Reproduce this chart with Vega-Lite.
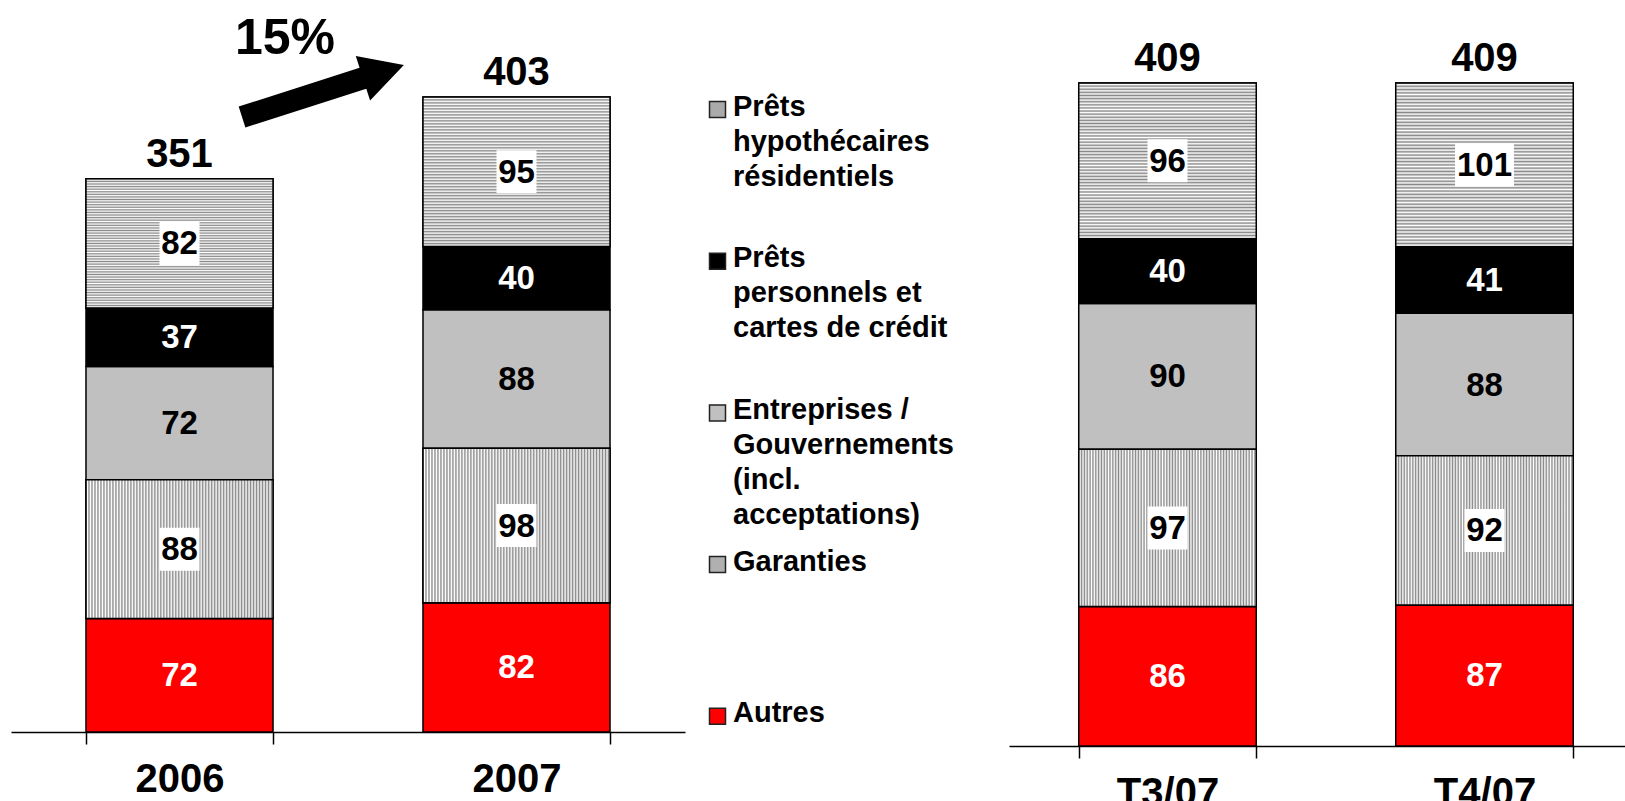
{
"$schema": "https://vega.github.io/schema/vega-lite/v6.json",
"background": "white",
"padding": {"left": 11, "top": 14, "right": 0, "bottom": 0},
"autosize": {"type": "pad"},
"bounds": "flush",
"spacing": 324,
"config": {"view": {"stroke": null}, "font": "Liberation Sans"},
"datasets": {
"loans": [
{"panel": "A", "period": "2006", "cat": "Autres", "ord": 1, "value": 72},
{"panel": "A", "period": "2006", "cat": "Garanties", "ord": 2, "value": 88},
{"panel": "A", "period": "2006", "cat": "Entreprises / Gouvernements (incl. acceptations)", "ord": 3, "value": 72},
{"panel": "A", "period": "2006", "cat": "Prêts personnels et cartes de crédit", "ord": 4, "value": 37},
{"panel": "A", "period": "2006", "cat": "Prêts hypothécaires résidentiels", "ord": 5, "value": 82},
{"panel": "A", "period": "2007", "cat": "Autres", "ord": 1, "value": 82},
{"panel": "A", "period": "2007", "cat": "Garanties", "ord": 2, "value": 98},
{"panel": "A", "period": "2007", "cat": "Entreprises / Gouvernements (incl. acceptations)", "ord": 3, "value": 88},
{"panel": "A", "period": "2007", "cat": "Prêts personnels et cartes de crédit", "ord": 4, "value": 40},
{"panel": "A", "period": "2007", "cat": "Prêts hypothécaires résidentiels", "ord": 5, "value": 95},
{"panel": "Q", "period": "T3/07", "cat": "Autres", "ord": 1, "value": 86},
{"panel": "Q", "period": "T3/07", "cat": "Garanties", "ord": 2, "value": 97},
{"panel": "Q", "period": "T3/07", "cat": "Entreprises / Gouvernements (incl. acceptations)", "ord": 3, "value": 90},
{"panel": "Q", "period": "T3/07", "cat": "Prêts personnels et cartes de crédit", "ord": 4, "value": 40},
{"panel": "Q", "period": "T3/07", "cat": "Prêts hypothécaires résidentiels", "ord": 5, "value": 96},
{"panel": "Q", "period": "T4/07", "cat": "Autres", "ord": 1, "value": 87},
{"panel": "Q", "period": "T4/07", "cat": "Garanties", "ord": 2, "value": 92},
{"panel": "Q", "period": "T4/07", "cat": "Entreprises / Gouvernements (incl. acceptations)", "ord": 3, "value": 88},
{"panel": "Q", "period": "T4/07", "cat": "Prêts personnels et cartes de crédit", "ord": 4, "value": 41},
{"panel": "Q", "period": "T4/07", "cat": "Prêts hypothécaires résidentiels", "ord": 5, "value": 101}
],
"note": [
{"period": "2006", "label": "15%", "ylab": 439.7, "yarrow": 406.7}
]
},
"resolve": {"scale": {"x": "independent", "y": "independent", "color": "shared"}, "legend": {"color": "independent"}},
"hconcat": [
{
"width": 674, "height": 695,
"layer": [
{
"data": {"name": "loans"},
"transform": [
{"filter": "datum.panel == 'A'"},
{"stack": "value", "groupby": ["period"], "sort": [{"field": "ord", "order": "ascending"}], "as": ["v0", "v1"]}
],
"mark": {"type": "bar", "stroke": "black", "strokeWidth": 1.5},
"encoding": {
"x": {"field": "period", "type": "nominal", "sort": ["2006", "2007"],
"scale": {"paddingInner": 0.445, "paddingOuter": 0.2225},
"axis": {"title": null, "labelAngle": 0, "tickBand": "extent", "domainColor": "black", "domainWidth": 1.5, "tickColor": "black", "tickWidth": 1.5, "tickSize": 12, "labelPadding": 15, "labelFont": "Liberation Sans", "labelFontSize": 40, "labelFontWeight": "bold", "labelColor": "black", "grid": false}},
"y": {"field": "v0", "type": "quantitative", "scale": {"domain": [0, 441], "nice": false, "zero": true}, "axis": null},
"y2": {"field": "v1"},
"color": {"field": "cat", "type": "nominal",
"scale": {
"domain": ["Prêts hypothécaires résidentiels", "Prêts personnels et cartes de crédit", "Entreprises / Gouvernements (incl. acceptations)", "Garanties", "Autres"],
"range": ["#aaaaaa", "#000000", "#c0c0c0", "#b0b0b0", "#ff0000"]},
"legend": {
"orient": "none", "legendX": 692, "legendY": 58, "title": null, "padding": 0,
"symbolType": "square", "symbolSize": 256, "symbolStrokeColor": "#222", "symbolStrokeWidth": 1.5, "symbolOpacity": 1,
"labelFont": "Liberation Sans", "labelFontSize": 29, "labelFontWeight": "bold", "labelColor": "black",
"labelLimit": 400, "labelOffset": 1, "labelBaseline": "top", "rowPadding": 16.7,
"labelExpr": "datum.label == 'Garanties' ? ['Garanties','','',''] : datum.label == 'Autres' ? ['Autres','','',''] : datum.label == 'Prêts hypothécaires résidentiels' ? ['Prêts','hypothécaires','résidentiels',''] : datum.label == 'Prêts personnels et cartes de crédit' ? ['Prêts','personnels et','cartes de crédit',''] : ['Entreprises /','Gouvernements','(incl.','acceptations)']",
"encode": {"labels": {"update": {"dy": {"value": -17}, "lineHeight": {"value": 35}}}}
}}
}
},
{
"data": {"name": "loans"},
"transform": [
{"filter": "datum.panel == 'A'"},
{"stack": "value", "groupby": ["period"], "sort": [{"field": "ord", "order": "ascending"}], "as": ["v0", "v1"]},
{"filter": "datum.cat == 'Prêts hypothécaires résidentiels'"}
],
"mark": {"type": "bar", "stroke": "black", "strokeWidth": 1.5,
"fill": {"gradient": "linear", "x1": 0, "y1": 0, "x2": 0, "y2": 1, "stops": [
{"offset":0,"color":"#888"},{"offset":0.01,"color":"#fff"},{"offset":0.02,"color":"#888"},{"offset":0.03,"color":"#fff"},{"offset":0.04,"color":"#888"},{"offset":0.05,"color":"#fff"},{"offset":0.06,"color":"#888"},{"offset":0.07,"color":"#fff"},{"offset":0.08,"color":"#888"},{"offset":0.09,"color":"#fff"},
{"offset":0.1,"color":"#888"},{"offset":0.11,"color":"#fff"},{"offset":0.12,"color":"#888"},{"offset":0.13,"color":"#fff"},{"offset":0.14,"color":"#888"},{"offset":0.15,"color":"#fff"},{"offset":0.16,"color":"#888"},{"offset":0.17,"color":"#fff"},{"offset":0.18,"color":"#888"},{"offset":0.19,"color":"#fff"},
{"offset":0.2,"color":"#888"},{"offset":0.21,"color":"#fff"},{"offset":0.22,"color":"#888"},{"offset":0.23,"color":"#fff"},{"offset":0.24,"color":"#888"},{"offset":0.25,"color":"#fff"},{"offset":0.26,"color":"#888"},{"offset":0.27,"color":"#fff"},{"offset":0.28,"color":"#888"},{"offset":0.29,"color":"#fff"},
{"offset":0.3,"color":"#888"},{"offset":0.31,"color":"#fff"},{"offset":0.32,"color":"#888"},{"offset":0.33,"color":"#fff"},{"offset":0.34,"color":"#888"},{"offset":0.35,"color":"#fff"},{"offset":0.36,"color":"#888"},{"offset":0.37,"color":"#fff"},{"offset":0.38,"color":"#888"},{"offset":0.39,"color":"#fff"},
{"offset":0.4,"color":"#888"},{"offset":0.41,"color":"#fff"},{"offset":0.42,"color":"#888"},{"offset":0.43,"color":"#fff"},{"offset":0.44,"color":"#888"},{"offset":0.45,"color":"#fff"},{"offset":0.46,"color":"#888"},{"offset":0.47,"color":"#fff"},{"offset":0.48,"color":"#888"},{"offset":0.49,"color":"#fff"},
{"offset":0.5,"color":"#888"},{"offset":0.51,"color":"#fff"},{"offset":0.52,"color":"#888"},{"offset":0.53,"color":"#fff"},{"offset":0.54,"color":"#888"},{"offset":0.55,"color":"#fff"},{"offset":0.56,"color":"#888"},{"offset":0.57,"color":"#fff"},{"offset":0.58,"color":"#888"},{"offset":0.59,"color":"#fff"},
{"offset":0.6,"color":"#888"},{"offset":0.61,"color":"#fff"},{"offset":0.62,"color":"#888"},{"offset":0.63,"color":"#fff"},{"offset":0.64,"color":"#888"},{"offset":0.65,"color":"#fff"},{"offset":0.66,"color":"#888"},{"offset":0.67,"color":"#fff"},{"offset":0.68,"color":"#888"},{"offset":0.69,"color":"#fff"},
{"offset":0.7,"color":"#888"},{"offset":0.71,"color":"#fff"},{"offset":0.72,"color":"#888"},{"offset":0.73,"color":"#fff"},{"offset":0.74,"color":"#888"},{"offset":0.75,"color":"#fff"},{"offset":0.76,"color":"#888"},{"offset":0.77,"color":"#fff"},{"offset":0.78,"color":"#888"},{"offset":0.79,"color":"#fff"},
{"offset":0.8,"color":"#888"},{"offset":0.81,"color":"#fff"},{"offset":0.82,"color":"#888"},{"offset":0.83,"color":"#fff"},{"offset":0.84,"color":"#888"},{"offset":0.85,"color":"#fff"},{"offset":0.86,"color":"#888"},{"offset":0.87,"color":"#fff"},{"offset":0.88,"color":"#888"},{"offset":0.89,"color":"#fff"},
{"offset":0.9,"color":"#888"},{"offset":0.91,"color":"#fff"},{"offset":0.92,"color":"#888"},{"offset":0.93,"color":"#fff"},{"offset":0.94,"color":"#888"},{"offset":0.95,"color":"#fff"},{"offset":0.96,"color":"#888"},{"offset":0.97,"color":"#fff"},{"offset":0.98,"color":"#888"},{"offset":0.99,"color":"#fff"},
{"offset":1,"color":"#888"}
]}},
"encoding": {
"x": {"field": "period", "type": "nominal"},
"y": {"field": "v0", "type": "quantitative", "scale": {"domain": [0, 441], "nice": false}},
"y2": {"field": "v1"}
}
},
{
"data": {"name": "loans"},
"transform": [
{"filter": "datum.panel == 'A'"},
{"stack": "value", "groupby": ["period"], "sort": [{"field": "ord", "order": "ascending"}], "as": ["v0", "v1"]},
{"filter": "datum.cat == 'Garanties'"}
],
"mark": {"type": "bar", "stroke": "black", "strokeWidth": 1.5,
"fill": {"gradient": "linear", "x1": 0, "y1": 0, "x2": 1, "y2": 0, "stops": [
{"offset":0,"color":"#888"},{"offset":0.008,"color":"#fff"},{"offset":0.016,"color":"#888"},{"offset":0.024,"color":"#fff"},{"offset":0.032,"color":"#888"},{"offset":0.04,"color":"#fff"},{"offset":0.048,"color":"#888"},{"offset":0.056,"color":"#fff"},{"offset":0.064,"color":"#888"},{"offset":0.072,"color":"#fff"},
{"offset":0.08,"color":"#888"},{"offset":0.088,"color":"#fff"},{"offset":0.096,"color":"#888"},{"offset":0.104,"color":"#fff"},{"offset":0.112,"color":"#888"},{"offset":0.12,"color":"#fff"},{"offset":0.128,"color":"#888"},{"offset":0.136,"color":"#fff"},{"offset":0.144,"color":"#888"},{"offset":0.152,"color":"#fff"},
{"offset":0.16,"color":"#888"},{"offset":0.168,"color":"#fff"},{"offset":0.176,"color":"#888"},{"offset":0.184,"color":"#fff"},{"offset":0.192,"color":"#888"},{"offset":0.2,"color":"#fff"},{"offset":0.208,"color":"#888"},{"offset":0.216,"color":"#fff"},{"offset":0.224,"color":"#888"},{"offset":0.232,"color":"#fff"},
{"offset":0.24,"color":"#888"},{"offset":0.248,"color":"#fff"},{"offset":0.256,"color":"#888"},{"offset":0.264,"color":"#fff"},{"offset":0.272,"color":"#888"},{"offset":0.28,"color":"#fff"},{"offset":0.288,"color":"#888"},{"offset":0.296,"color":"#fff"},{"offset":0.304,"color":"#888"},{"offset":0.312,"color":"#fff"},
{"offset":0.32,"color":"#888"},{"offset":0.328,"color":"#fff"},{"offset":0.336,"color":"#888"},{"offset":0.344,"color":"#fff"},{"offset":0.352,"color":"#888"},{"offset":0.36,"color":"#fff"},{"offset":0.368,"color":"#888"},{"offset":0.376,"color":"#fff"},{"offset":0.384,"color":"#888"},{"offset":0.392,"color":"#fff"},
{"offset":0.4,"color":"#888"},{"offset":0.408,"color":"#fff"},{"offset":0.416,"color":"#888"},{"offset":0.424,"color":"#fff"},{"offset":0.432,"color":"#888"},{"offset":0.44,"color":"#fff"},{"offset":0.448,"color":"#888"},{"offset":0.456,"color":"#fff"},{"offset":0.464,"color":"#888"},{"offset":0.472,"color":"#fff"},
{"offset":0.48,"color":"#888"},{"offset":0.488,"color":"#fff"},{"offset":0.496,"color":"#888"},{"offset":0.504,"color":"#fff"},{"offset":0.512,"color":"#888"},{"offset":0.52,"color":"#fff"},{"offset":0.528,"color":"#888"},{"offset":0.536,"color":"#fff"},{"offset":0.544,"color":"#888"},{"offset":0.552,"color":"#fff"},
{"offset":0.56,"color":"#888"},{"offset":0.568,"color":"#fff"},{"offset":0.576,"color":"#888"},{"offset":0.584,"color":"#fff"},{"offset":0.592,"color":"#888"},{"offset":0.6,"color":"#fff"},{"offset":0.608,"color":"#888"},{"offset":0.616,"color":"#fff"},{"offset":0.624,"color":"#888"},{"offset":0.632,"color":"#fff"},
{"offset":0.64,"color":"#888"},{"offset":0.648,"color":"#fff"},{"offset":0.656,"color":"#888"},{"offset":0.664,"color":"#fff"},{"offset":0.672,"color":"#888"},{"offset":0.68,"color":"#fff"},{"offset":0.688,"color":"#888"},{"offset":0.696,"color":"#fff"},{"offset":0.704,"color":"#888"},{"offset":0.712,"color":"#fff"},
{"offset":0.72,"color":"#888"},{"offset":0.728,"color":"#fff"},{"offset":0.736,"color":"#888"},{"offset":0.744,"color":"#fff"},{"offset":0.752,"color":"#888"},{"offset":0.76,"color":"#fff"},{"offset":0.768,"color":"#888"},{"offset":0.776,"color":"#fff"},{"offset":0.784,"color":"#888"},{"offset":0.792,"color":"#fff"},
{"offset":0.8,"color":"#888"},{"offset":0.808,"color":"#fff"},{"offset":0.816,"color":"#888"},{"offset":0.824,"color":"#fff"},{"offset":0.832,"color":"#888"},{"offset":0.84,"color":"#fff"},{"offset":0.848,"color":"#888"},{"offset":0.856,"color":"#fff"},{"offset":0.864,"color":"#888"},{"offset":0.872,"color":"#fff"},
{"offset":0.88,"color":"#888"},{"offset":0.888,"color":"#fff"},{"offset":0.896,"color":"#888"},{"offset":0.904,"color":"#fff"},{"offset":0.912,"color":"#888"},{"offset":0.92,"color":"#fff"},{"offset":0.928,"color":"#888"},{"offset":0.936,"color":"#fff"},{"offset":0.944,"color":"#888"},{"offset":0.952,"color":"#fff"},
{"offset":0.96,"color":"#888"},{"offset":0.968,"color":"#fff"},{"offset":0.976,"color":"#888"},{"offset":0.984,"color":"#fff"},{"offset":0.992,"color":"#888"},{"offset":1,"color":"#fff"}
]}},
"encoding": {
"x": {"field": "period", "type": "nominal"},
"y": {"field": "v0", "type": "quantitative", "scale": {"domain": [0, 441], "nice": false}},
"y2": {"field": "v1"}
}
},
{
"data": {"name": "loans"},
"transform": [
{"filter": "datum.panel == 'A'"},
{"stack": "value", "groupby": ["period"], "sort": [{"field": "ord", "order": "ascending"}], "as": ["v0", "v1"]},
{"calculate": "(datum.v0 + datum.v1) / 2", "as": "mid"},
{"filter": "datum.cat == 'Garanties' || datum.cat == 'Prêts hypothécaires résidentiels'"}
],
"mark": {"type": "point", "filled": true, "color": "white", "opacity": 1, "strokeWidth": 0, "size": 1849},
"encoding": {
"x": {"field": "period", "type": "nominal"},
"y": {"field": "mid", "type": "quantitative", "scale": {"domain": [0, 441], "nice": false}},
"shape": {"condition": {"test": "datum.value >= 100", "value": "M-1.37,-1H1.37V1H-1.37Z"}, "value": "M-0.93,-1H0.93V1H-0.93Z"}
}
},
{
"data": {"name": "loans"},
"transform": [
{"filter": "datum.panel == 'A'"},
{"stack": "value", "groupby": ["period"], "sort": [{"field": "ord", "order": "ascending"}], "as": ["v0", "v1"]},
{"calculate": "(datum.v0 + datum.v1) / 2", "as": "mid"}
],
"mark": {"type": "text", "font": "Liberation Sans", "fontSize": 33, "fontWeight": "bold", "baseline": "middle", "align": "center", "dy": 1},
"encoding": {
"x": {"field": "period", "type": "nominal"},
"y": {"field": "mid", "type": "quantitative", "scale": {"domain": [0, 441], "nice": false}},
"text": {"field": "value", "type": "quantitative"},
"color": {"condition": {"test": "datum.cat == 'Autres' || datum.cat == 'Prêts personnels et cartes de crédit'", "value": "white"}, "value": "black"}
}
},
{
"data": {"name": "loans"},
"transform": [
{"filter": "datum.panel == 'A'"},
{"aggregate": [{"op": "sum", "field": "value", "as": "total"}], "groupby": ["period"]}
],
"mark": {"type": "text", "font": "Liberation Sans", "fontSize": 40, "fontWeight": "bold", "baseline": "middle", "align": "center", "dy": -24, "color": "black"},
"encoding": {
"x": {"field": "period", "type": "nominal"},
"y": {"field": "total", "type": "quantitative", "scale": {"domain": [0, 441], "nice": false}},
"text": {"field": "total", "type": "quantitative"}
}
},
{
"data": {"name": "note"},
"mark": {"type": "point", "filled": true, "color": "black", "opacity": 1, "strokeWidth": 0, "size": 28900, "angle": -17.8,
"shape": "M-1,-0.129L0.494,-0.129L0.494,-0.276L1,0L0.494,0.276L0.494,0.129L-1,0.129Z"},
"encoding": {
"x": {"field": "period", "type": "nominal", "bandPosition": 1.267},
"y": {"field": "yarrow", "type": "quantitative", "scale": {"domain": [0, 441], "nice": false}}
}
},
{
"data": {"name": "note"},
"mark": {"type": "text", "font": "Liberation Sans", "fontSize": 50, "fontWeight": "bold", "baseline": "middle", "align": "center", "color": "black"},
"encoding": {
"x": {"field": "period", "type": "nominal", "bandPosition": 1.064},
"y": {"field": "ylab", "type": "quantitative", "scale": {"domain": [0, 441], "nice": false}},
"text": {"field": "label", "type": "nominal"}
}
}
]
},
{
"width": 634, "height": 709,
"layer": [
{
"data": {"name": "loans"},
"transform": [
{"filter": "datum.panel == 'Q'"},
{"stack": "value", "groupby": ["period"], "sort": [{"field": "ord", "order": "ascending"}], "as": ["v0", "v1"]}
],
"mark": {"type": "bar", "stroke": "black", "strokeWidth": 1.5},
"encoding": {
"x": {"field": "period", "type": "nominal", "sort": ["T3/07", "T4/07"],
"scale": {"paddingInner": 0.44, "paddingOuter": 0.22},
"axis": {"title": null, "labelAngle": 0, "tickBand": "extent", "domainColor": "black", "domainWidth": 1.5, "tickColor": "black", "tickWidth": 1.5, "tickSize": 12, "labelPadding": 15, "labelFont": "Liberation Sans", "labelFontSize": 40, "labelFontWeight": "bold", "labelColor": "black", "grid": false}},
"y": {"field": "v0", "type": "quantitative", "scale": {"domain": [0, 437.4], "nice": false, "zero": true}, "axis": null},
"y2": {"field": "v1"},
"color": {"field": "cat", "type": "nominal", "legend": null}
}
},
{
"data": {"name": "loans"},
"transform": [
{"filter": "datum.panel == 'Q'"},
{"stack": "value", "groupby": ["period"], "sort": [{"field": "ord", "order": "ascending"}], "as": ["v0", "v1"]},
{"filter": "datum.cat == 'Prêts hypothécaires résidentiels'"}
],
"mark": {"type": "bar", "stroke": "black", "strokeWidth": 1.5,
"fill": {"gradient": "linear", "x1": 0, "y1": 0, "x2": 0, "y2": 1, "stops": [
{"offset":0,"color":"#888"},{"offset":0.01,"color":"#fff"},{"offset":0.02,"color":"#888"},{"offset":0.03,"color":"#fff"},{"offset":0.04,"color":"#888"},{"offset":0.05,"color":"#fff"},{"offset":0.06,"color":"#888"},{"offset":0.07,"color":"#fff"},{"offset":0.08,"color":"#888"},{"offset":0.09,"color":"#fff"},
{"offset":0.1,"color":"#888"},{"offset":0.11,"color":"#fff"},{"offset":0.12,"color":"#888"},{"offset":0.13,"color":"#fff"},{"offset":0.14,"color":"#888"},{"offset":0.15,"color":"#fff"},{"offset":0.16,"color":"#888"},{"offset":0.17,"color":"#fff"},{"offset":0.18,"color":"#888"},{"offset":0.19,"color":"#fff"},
{"offset":0.2,"color":"#888"},{"offset":0.21,"color":"#fff"},{"offset":0.22,"color":"#888"},{"offset":0.23,"color":"#fff"},{"offset":0.24,"color":"#888"},{"offset":0.25,"color":"#fff"},{"offset":0.26,"color":"#888"},{"offset":0.27,"color":"#fff"},{"offset":0.28,"color":"#888"},{"offset":0.29,"color":"#fff"},
{"offset":0.3,"color":"#888"},{"offset":0.31,"color":"#fff"},{"offset":0.32,"color":"#888"},{"offset":0.33,"color":"#fff"},{"offset":0.34,"color":"#888"},{"offset":0.35,"color":"#fff"},{"offset":0.36,"color":"#888"},{"offset":0.37,"color":"#fff"},{"offset":0.38,"color":"#888"},{"offset":0.39,"color":"#fff"},
{"offset":0.4,"color":"#888"},{"offset":0.41,"color":"#fff"},{"offset":0.42,"color":"#888"},{"offset":0.43,"color":"#fff"},{"offset":0.44,"color":"#888"},{"offset":0.45,"color":"#fff"},{"offset":0.46,"color":"#888"},{"offset":0.47,"color":"#fff"},{"offset":0.48,"color":"#888"},{"offset":0.49,"color":"#fff"},
{"offset":0.5,"color":"#888"},{"offset":0.51,"color":"#fff"},{"offset":0.52,"color":"#888"},{"offset":0.53,"color":"#fff"},{"offset":0.54,"color":"#888"},{"offset":0.55,"color":"#fff"},{"offset":0.56,"color":"#888"},{"offset":0.57,"color":"#fff"},{"offset":0.58,"color":"#888"},{"offset":0.59,"color":"#fff"},
{"offset":0.6,"color":"#888"},{"offset":0.61,"color":"#fff"},{"offset":0.62,"color":"#888"},{"offset":0.63,"color":"#fff"},{"offset":0.64,"color":"#888"},{"offset":0.65,"color":"#fff"},{"offset":0.66,"color":"#888"},{"offset":0.67,"color":"#fff"},{"offset":0.68,"color":"#888"},{"offset":0.69,"color":"#fff"},
{"offset":0.7,"color":"#888"},{"offset":0.71,"color":"#fff"},{"offset":0.72,"color":"#888"},{"offset":0.73,"color":"#fff"},{"offset":0.74,"color":"#888"},{"offset":0.75,"color":"#fff"},{"offset":0.76,"color":"#888"},{"offset":0.77,"color":"#fff"},{"offset":0.78,"color":"#888"},{"offset":0.79,"color":"#fff"},
{"offset":0.8,"color":"#888"},{"offset":0.81,"color":"#fff"},{"offset":0.82,"color":"#888"},{"offset":0.83,"color":"#fff"},{"offset":0.84,"color":"#888"},{"offset":0.85,"color":"#fff"},{"offset":0.86,"color":"#888"},{"offset":0.87,"color":"#fff"},{"offset":0.88,"color":"#888"},{"offset":0.89,"color":"#fff"},
{"offset":0.9,"color":"#888"},{"offset":0.91,"color":"#fff"},{"offset":0.92,"color":"#888"},{"offset":0.93,"color":"#fff"},{"offset":0.94,"color":"#888"},{"offset":0.95,"color":"#fff"},{"offset":0.96,"color":"#888"},{"offset":0.97,"color":"#fff"},{"offset":0.98,"color":"#888"},{"offset":0.99,"color":"#fff"},
{"offset":1,"color":"#888"}
]}},
"encoding": {
"x": {"field": "period", "type": "nominal"},
"y": {"field": "v0", "type": "quantitative", "scale": {"domain": [0, 437.4], "nice": false}},
"y2": {"field": "v1"}
}
},
{
"data": {"name": "loans"},
"transform": [
{"filter": "datum.panel == 'Q'"},
{"stack": "value", "groupby": ["period"], "sort": [{"field": "ord", "order": "ascending"}], "as": ["v0", "v1"]},
{"filter": "datum.cat == 'Garanties'"}
],
"mark": {"type": "bar", "stroke": "black", "strokeWidth": 1.5,
"fill": {"gradient": "linear", "x1": 0, "y1": 0, "x2": 1, "y2": 0, "stops": [
{"offset":0,"color":"#888"},{"offset":0.008,"color":"#fff"},{"offset":0.016,"color":"#888"},{"offset":0.024,"color":"#fff"},{"offset":0.032,"color":"#888"},{"offset":0.04,"color":"#fff"},{"offset":0.048,"color":"#888"},{"offset":0.056,"color":"#fff"},{"offset":0.064,"color":"#888"},{"offset":0.072,"color":"#fff"},
{"offset":0.08,"color":"#888"},{"offset":0.088,"color":"#fff"},{"offset":0.096,"color":"#888"},{"offset":0.104,"color":"#fff"},{"offset":0.112,"color":"#888"},{"offset":0.12,"color":"#fff"},{"offset":0.128,"color":"#888"},{"offset":0.136,"color":"#fff"},{"offset":0.144,"color":"#888"},{"offset":0.152,"color":"#fff"},
{"offset":0.16,"color":"#888"},{"offset":0.168,"color":"#fff"},{"offset":0.176,"color":"#888"},{"offset":0.184,"color":"#fff"},{"offset":0.192,"color":"#888"},{"offset":0.2,"color":"#fff"},{"offset":0.208,"color":"#888"},{"offset":0.216,"color":"#fff"},{"offset":0.224,"color":"#888"},{"offset":0.232,"color":"#fff"},
{"offset":0.24,"color":"#888"},{"offset":0.248,"color":"#fff"},{"offset":0.256,"color":"#888"},{"offset":0.264,"color":"#fff"},{"offset":0.272,"color":"#888"},{"offset":0.28,"color":"#fff"},{"offset":0.288,"color":"#888"},{"offset":0.296,"color":"#fff"},{"offset":0.304,"color":"#888"},{"offset":0.312,"color":"#fff"},
{"offset":0.32,"color":"#888"},{"offset":0.328,"color":"#fff"},{"offset":0.336,"color":"#888"},{"offset":0.344,"color":"#fff"},{"offset":0.352,"color":"#888"},{"offset":0.36,"color":"#fff"},{"offset":0.368,"color":"#888"},{"offset":0.376,"color":"#fff"},{"offset":0.384,"color":"#888"},{"offset":0.392,"color":"#fff"},
{"offset":0.4,"color":"#888"},{"offset":0.408,"color":"#fff"},{"offset":0.416,"color":"#888"},{"offset":0.424,"color":"#fff"},{"offset":0.432,"color":"#888"},{"offset":0.44,"color":"#fff"},{"offset":0.448,"color":"#888"},{"offset":0.456,"color":"#fff"},{"offset":0.464,"color":"#888"},{"offset":0.472,"color":"#fff"},
{"offset":0.48,"color":"#888"},{"offset":0.488,"color":"#fff"},{"offset":0.496,"color":"#888"},{"offset":0.504,"color":"#fff"},{"offset":0.512,"color":"#888"},{"offset":0.52,"color":"#fff"},{"offset":0.528,"color":"#888"},{"offset":0.536,"color":"#fff"},{"offset":0.544,"color":"#888"},{"offset":0.552,"color":"#fff"},
{"offset":0.56,"color":"#888"},{"offset":0.568,"color":"#fff"},{"offset":0.576,"color":"#888"},{"offset":0.584,"color":"#fff"},{"offset":0.592,"color":"#888"},{"offset":0.6,"color":"#fff"},{"offset":0.608,"color":"#888"},{"offset":0.616,"color":"#fff"},{"offset":0.624,"color":"#888"},{"offset":0.632,"color":"#fff"},
{"offset":0.64,"color":"#888"},{"offset":0.648,"color":"#fff"},{"offset":0.656,"color":"#888"},{"offset":0.664,"color":"#fff"},{"offset":0.672,"color":"#888"},{"offset":0.68,"color":"#fff"},{"offset":0.688,"color":"#888"},{"offset":0.696,"color":"#fff"},{"offset":0.704,"color":"#888"},{"offset":0.712,"color":"#fff"},
{"offset":0.72,"color":"#888"},{"offset":0.728,"color":"#fff"},{"offset":0.736,"color":"#888"},{"offset":0.744,"color":"#fff"},{"offset":0.752,"color":"#888"},{"offset":0.76,"color":"#fff"},{"offset":0.768,"color":"#888"},{"offset":0.776,"color":"#fff"},{"offset":0.784,"color":"#888"},{"offset":0.792,"color":"#fff"},
{"offset":0.8,"color":"#888"},{"offset":0.808,"color":"#fff"},{"offset":0.816,"color":"#888"},{"offset":0.824,"color":"#fff"},{"offset":0.832,"color":"#888"},{"offset":0.84,"color":"#fff"},{"offset":0.848,"color":"#888"},{"offset":0.856,"color":"#fff"},{"offset":0.864,"color":"#888"},{"offset":0.872,"color":"#fff"},
{"offset":0.88,"color":"#888"},{"offset":0.888,"color":"#fff"},{"offset":0.896,"color":"#888"},{"offset":0.904,"color":"#fff"},{"offset":0.912,"color":"#888"},{"offset":0.92,"color":"#fff"},{"offset":0.928,"color":"#888"},{"offset":0.936,"color":"#fff"},{"offset":0.944,"color":"#888"},{"offset":0.952,"color":"#fff"},
{"offset":0.96,"color":"#888"},{"offset":0.968,"color":"#fff"},{"offset":0.976,"color":"#888"},{"offset":0.984,"color":"#fff"},{"offset":0.992,"color":"#888"},{"offset":1,"color":"#fff"}
]}},
"encoding": {
"x": {"field": "period", "type": "nominal"},
"y": {"field": "v0", "type": "quantitative", "scale": {"domain": [0, 437.4], "nice": false}},
"y2": {"field": "v1"}
}
},
{
"data": {"name": "loans"},
"transform": [
{"filter": "datum.panel == 'Q'"},
{"stack": "value", "groupby": ["period"], "sort": [{"field": "ord", "order": "ascending"}], "as": ["v0", "v1"]},
{"calculate": "(datum.v0 + datum.v1) / 2", "as": "mid"},
{"filter": "datum.cat == 'Garanties' || datum.cat == 'Prêts hypothécaires résidentiels'"}
],
"mark": {"type": "point", "filled": true, "color": "white", "opacity": 1, "strokeWidth": 0, "size": 1849},
"encoding": {
"x": {"field": "period", "type": "nominal"},
"y": {"field": "mid", "type": "quantitative", "scale": {"domain": [0, 437.4], "nice": false}},
"shape": {"condition": {"test": "datum.value >= 100", "value": "M-1.37,-1H1.37V1H-1.37Z"}, "value": "M-0.93,-1H0.93V1H-0.93Z"}
}
},
{
"data": {"name": "loans"},
"transform": [
{"filter": "datum.panel == 'Q'"},
{"stack": "value", "groupby": ["period"], "sort": [{"field": "ord", "order": "ascending"}], "as": ["v0", "v1"]},
{"calculate": "(datum.v0 + datum.v1) / 2", "as": "mid"}
],
"mark": {"type": "text", "font": "Liberation Sans", "fontSize": 33, "fontWeight": "bold", "baseline": "middle", "align": "center", "dy": 1},
"encoding": {
"x": {"field": "period", "type": "nominal"},
"y": {"field": "mid", "type": "quantitative", "scale": {"domain": [0, 437.4], "nice": false}},
"text": {"field": "value", "type": "quantitative"},
"color": {"condition": {"test": "datum.cat == 'Autres' || datum.cat == 'Prêts personnels et cartes de crédit'", "value": "white"}, "value": "black"}
}
},
{
"data": {"name": "loans"},
"transform": [
{"filter": "datum.panel == 'Q'"},
{"aggregate": [{"op": "sum", "field": "value", "as": "total"}], "groupby": ["period"]}
],
"mark": {"type": "text", "font": "Liberation Sans", "fontSize": 40, "fontWeight": "bold", "baseline": "middle", "align": "center", "dy": -24, "color": "black"},
"encoding": {
"x": {"field": "period", "type": "nominal"},
"y": {"field": "total", "type": "quantitative", "scale": {"domain": [0, 437.4], "nice": false}},
"text": {"field": "total", "type": "quantitative"}
}
}
]
}
]
}
